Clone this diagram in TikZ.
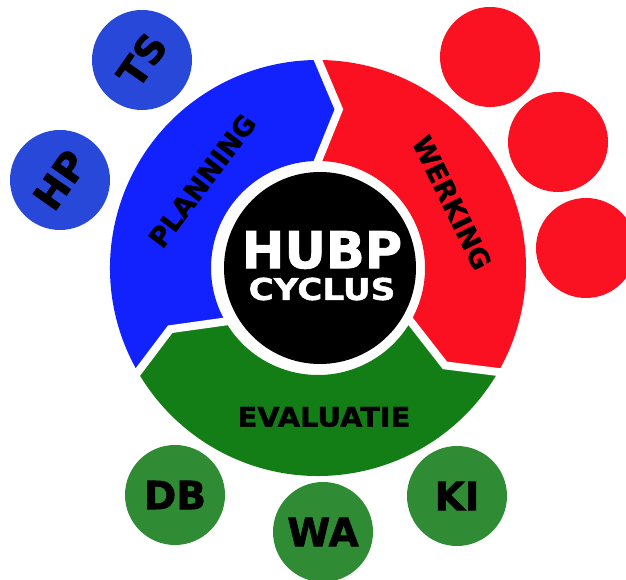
\documentclass[tikz,border=0pt]{standalone}
\usepackage{fontspec}
\setmainfont{DejaVu Sans}
\newfontfamily\heavy{DejaVu Sans Bold}[FakeBold=1.5]
\definecolor{ringblue}{RGB}{17,34,255}
\definecolor{ringred}{RGB}{250,16,32}
\definecolor{ringgreen}{RGB}{20,126,22}
\definecolor{dotblue}{RGB}{40,72,218}
\definecolor{dotred}{RGB}{250,18,34}
\definecolor{dotgreen}{RGB}{48,140,52}
\begin{document}
\begin{tikzpicture}[x=1pt,y=1pt,
dot/.style={circle,minimum size=100,inner sep=0pt,font=\heavy\fontsize{39}{39}\selectfont},
ringtext/.style={inner sep=0pt,font=\heavy\fontsize{27}{27}\selectfont},
gap/.style={white,line width=8,line join=miter,line cap=rect}]
\useasboundingbox (0,0) rectangle (626,580);
\clip (0,0) rectangle (626,580);
% outer dots
\node[dot,fill=dotblue] (ts) at (142,520) {\rotatebox{55}{TS}};
\node[dot,fill=dotblue] (hp) at (60,400) {\rotatebox{55}{HP}};
\node[dot,fill=dotred] (r1) at (490,523) {};
\node[dot,fill=dotred] (r2) at (558,438) {};
\node[dot,fill=dotred] (r3) at (586,332) {};
\node[dot,fill=dotgreen] (db) at (175,85) {DB};
\node[dot,fill=dotgreen] (wa) at (323,48) {WA};
\node[dot,fill=dotgreen] (ki) at (457,84) {KI};
% ring
\begin{scope}[shift={(318,312)}]
\fill[ringblue] (210:208) arc[start angle=210,end angle=90,radius=208] -- (82.5:160)
-- (90:107) arc[start angle=90,end angle=210,radius=107] -- (202.5:160) -- cycle;
\fill[ringred] (90:208) arc[start angle=90,end angle=-30,radius=208] -- (-37.5:160)
-- (-30:107) arc[start angle=-30,end angle=90,radius=107] -- (82.5:160) -- cycle;
\fill[ringgreen] (330:208) arc[start angle=330,end angle=210,radius=208] -- (202.5:160)
-- (210:107) arc[start angle=210,end angle=330,radius=107] -- (322.5:160) -- cycle;
\draw[gap] (90:208) -- (82.5:160) -- (90:107);
\draw[gap] (210:208) -- (202.5:160) -- (210:107);
\draw[gap] (330:208) -- (322.5:160) -- (330:107);
\node[ringtext,rotate=53] (plan) at (143:145) {PLANNING};
\node[ringtext,rotate=-64] (werk) at (26:149) {WERKING};
\end{scope}
\node[ringtext] (eval) at (324,163) {\scalebox{1.07}[1]{EVALUATIE}};
% centre
\node[circle,fill=black,minimum size=192,inner sep=0pt] (hub) at (320,312) {};
\node[white,font=\heavy\fontsize{51}{51}\selectfont] (hubp) at (322,330) {HUBP};
\node[white,font=\heavy\fontsize{30}{30}\selectfont] (cyc) at (322,291) {\scalebox{1.14}[1]{CYCLUS}};
\end{tikzpicture}
\end{document}
